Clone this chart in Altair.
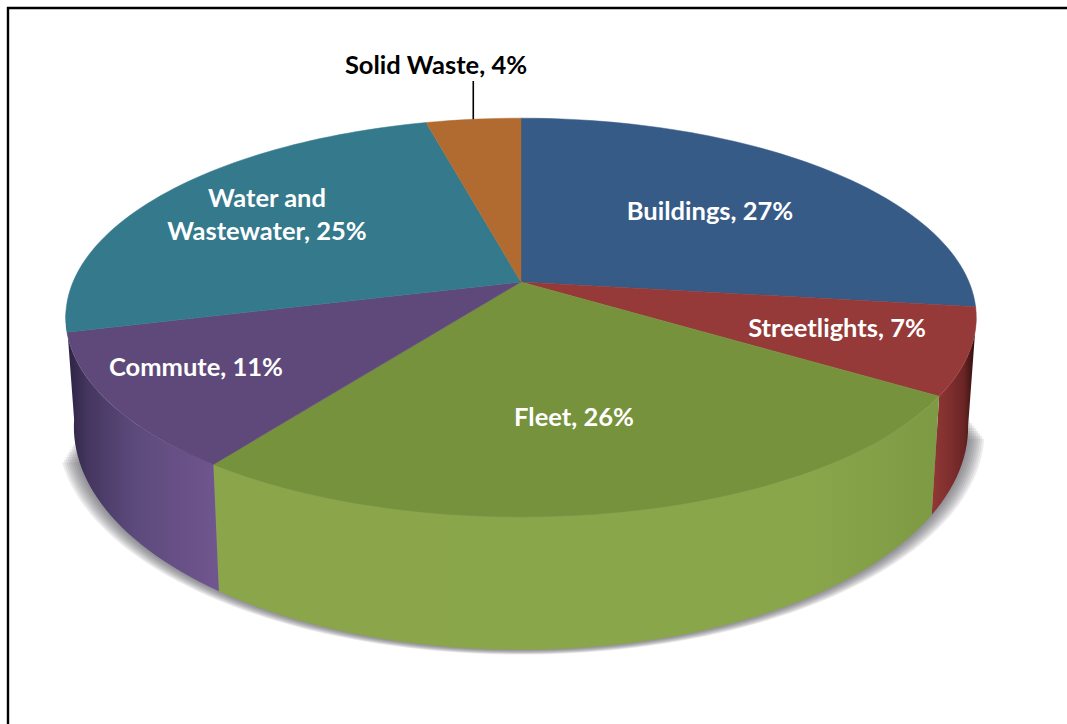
import math
import altair as alt

# Share of emissions per sector, clockwise from twelve o'clock
sectors = ["Buildings", "Streetlights", "Fleet", "Commute", "Water and Wastewater", "Solid Waste"]
shares = [27, 7, 26, 11, 25, 4]
top_colors = ["#365b87", "#953a38", "#76923c", "#5f497a", "#34798c", "#b16a2f"]

# Label rows: text, centre position on the page, colour
label_rows = ["Buildings, 27%", "Streetlights, 7%", "Fleet, 26%", "Commute, 11%",
              "Water and", "Wastewater, 25%", "Solid Waste, 4%"]
label_x = [710, 837, 574, 196, 267, 267, 436]
label_y = [212, 329, 418, 368, 199, 232, 66]
label_colors = ["#ffffff"] * 6 + ["#000000"]

WIDTH, HEIGHT = 1067, 724
CX = 521
TILT = 0.178
TOP_RIM = dict(y0=282, a=448, c=193)
BOTTOM_RIM = dict(y0=387, a=440, c=216)


def rim_point(theta_deg, y0, a, c, grow=0.0, drop=0.0):
    """Perspective projection of a point on the disc edge."""
    t = math.radians(theta_deg)
    px, py = math.sin(t), math.cos(t)
    d = 1 + TILT * py
    return [CX + (a + grow) * px / d, y0 + drop - c * py / d]


def arc(start, end, rim, **kw):
    n = max(2, int(abs(end - start) / 1.5) + 1)
    return [rim_point(start + (end - start) * i / (n - 1), **rim, **kw) for i in range(n)]


def polygon(points):
    ring = points + [points[0]]
    return {"type": "Feature", "properties": {}, "geometry": {"type": "Polygon", "coordinates": [ring]}}


def line(points):
    return {"type": "Feature", "properties": {}, "geometry": {"type": "LineString", "coordinates": points}}


projection = alt.Projection(type="identity", scale=1, translate=[0, 0])


def shape(feature, **mark):
    data = alt.InlineData(values={"type": "FeatureCollection", "features": [feature]},
                          format=alt.DataFormat(property="features", type="json"))
    return alt.Chart(data).mark_geoshape(**mark).project(**projection.to_dict())


def ramp(stops, x1=0, x2=1, y1=0, y2=0):
    return alt.Gradient(gradient="linear", x1=x1, x2=x2, y1=y1, y2=y2,
                        stops=[alt.GradientStop(color=c, offset=o) for o, c in stops])


edges = [0]
for s in shares:
    edges.append(edges[-1] + s * 3.6)

layers = []

# Soft ground shadow: nested translucent outlines, widest first, tapering at both ends
for i in range(8, 0, -1):
    lip = arc(98 + i * 0.5, 256 - i * 0.5, BOTTOM_RIM, grow=i * 2.0, drop=i * 0.6)
    layers.append(shape(polygon(lip), fill="#55505f", fillOpacity=0.11, stroke=None))

# Visible wall of the disc, from the right silhouette round to the left one
wall_ranges = {1: (100, edges[2]), 2: (edges[2], edges[3]), 3: (edges[3], edges[4] + 6)}
wall_fills = {
    1: ramp([(0, "#913836"), (0.4, "#7f2f2e"), (0.72, "#6a2524"), (1, "#2a0d0d")]),
    2: ramp([(0, "#8aa54a"), (0.82, "#8aa64b"), (1, "#7d9a44")]),
    3: ramp([(0, "#2a2140"), (0.14, "#44365f"), (0.45, "#5d4a7c"), (1, "#70568f")]),
}
for idx, (a0, a1) in wall_ranges.items():
    outline = arc(a0, a1, TOP_RIM) + arc(a1, a0, BOTTOM_RIM)
    layers.append(shape(polygon(outline), fill=wall_fills[idx], stroke=None))

# Top face wedges meeting at the projected disc centre
apex = [CX, TOP_RIM["y0"]]
for i, color in enumerate(top_colors):
    wedge = [apex] + arc(edges[i], edges[i + 1], TOP_RIM)
    layers.append(shape(polygon(wedge), fill=color, stroke=color, strokeWidth=0.5))

# Leader from the Solid Waste label down to its wedge
leader_base = rim_point((edges[5] + edges[6]) / 2, **TOP_RIM)
layers.append(shape(line([leader_base, [leader_base[0], 81]]), filled=False, stroke="#000000", strokeWidth=1.6))

# Frame along the top and left of the page
layers.append(shape(line([[WIDTH, 8], [8, 8], [8, HEIGHT]]), filled=False, stroke="#000000", strokeWidth=2.4))

labels = alt.Data(values=[
    {"text": t, "lon": x, "lat": y, "color": c}
    for t, x, y, c in zip(label_rows, label_x, label_y, label_colors)
])
layers.append(
    alt.Chart(labels)
    .mark_text(font="Lato", fontSize=25.5, fontWeight=700, align="center", baseline="middle")
    .encode(
        longitude="lon:Q",
        latitude="lat:Q",
        text="text:N",
        color=alt.Color("color:N", scale=None, legend=None),
    )
    .project(**projection.to_dict())
)

chart = (
    alt.layer(*layers)
    .properties(width=WIDTH, height=HEIGHT, padding=0, background="#ffffff",
                autosize=alt.AutoSizeParams(type="none"))
    .configure_view(stroke=None)
)

chart.save("out.html", embed_options={"renderer": "svg", "actions": False})
